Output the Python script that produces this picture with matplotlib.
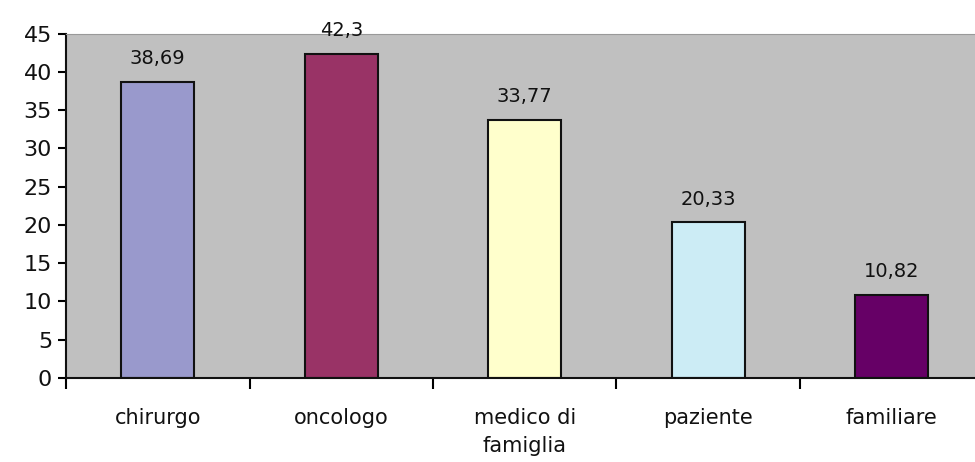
import matplotlib.pyplot as plt

# data
categories = ["chirurgo", "oncologo", "medico di\nfamiglia", "paziente", "familiare"]
values = [38.69, 42.3, 33.77, 20.33, 10.82]
value_labels = ["38,69", "42,3", "33,77", "20,33", "10,82"]
bar_colors = ["#9999cc", "#993366", "#ffffcc", "#ccecf5", "#660066"]
y_ticks = [0, 5, 10, 15, 20, 25, 30, 35, 40, 45]

fig = plt.figure(figsize=(9.75, 4.62), dpi=100)
ax = fig.add_axes([0.0677, 0.182, 0.941, 0.745])
ax.set_facecolor("#c0c0c0")

x = list(range(len(categories)))
bars = ax.bar(x, values, width=0.4, color=bar_colors, edgecolor="#111111", linewidth=1.5)

for xi, v, lab in zip(x, values, value_labels):
    ax.annotate(lab, (xi, v), xytext=(0, 10), textcoords="offset points",
                ha="center", va="bottom", fontsize=14, color="#111111")

ax.set_xlim(-0.5, len(categories) - 0.5)
ax.set_ylim(0, 45)
ax.set_yticks(y_ticks)
ax.tick_params(axis="y", labelsize=16, length=6, width=1.5, direction="out", pad=4,
               labelcolor="#111111")

# category labels centred, tick marks between categories
ax.set_xticks(x)
ax.set_xticklabels(categories, fontsize=15, linespacing=1.45, color="#111111")
ax.tick_params(axis="x", length=0, pad=22)
ax.set_xticks([i - 0.5 for i in range(len(categories) + 1)], minor=True)
ax.tick_params(axis="x", which="minor", length=8, width=1.5, direction="out")

for side in ["left", "bottom"]:
    ax.spines[side].set_linewidth(1.5)
    ax.spines[side].set_color("#111111")
ax.spines["top"].set_color("#999999")
ax.spines["right"].set_visible(False)

fig.savefig("out.png", dpi=100)
